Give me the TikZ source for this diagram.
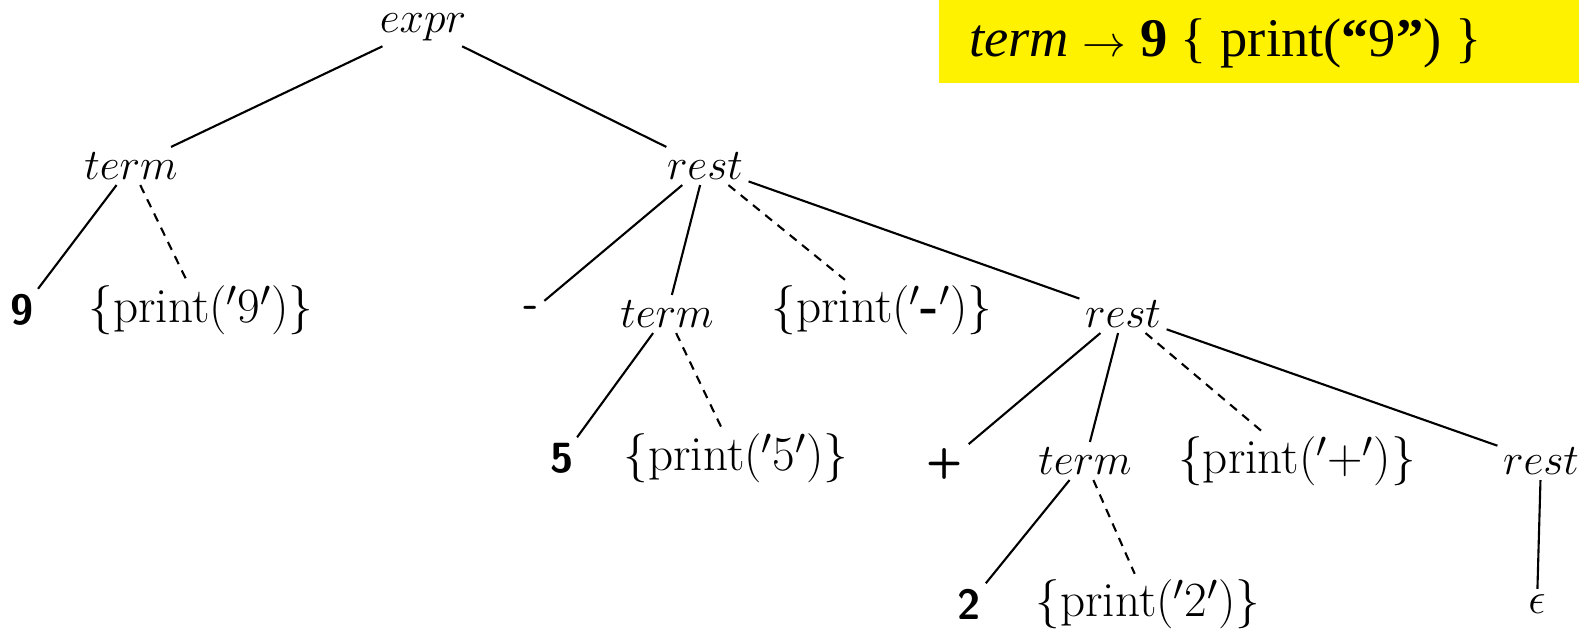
\documentclass[tikz,border=0pt]{standalone}
\usepackage{fontspec}
\newfontfamily\rulefont{Liberation Serif}

\begin{document}
\begin{tikzpicture}[x=0.02cm, y=-0.02cm,
  every node/.style={font=\fontsize{28}{32}\selectfont, inner sep=3pt},
  tok/.style={font=\fontsize{24}{28}\selectfont\sffamily\bfseries},
  edge/.style={line width=1.2pt},
  actedge/.style={edge, dash pattern=on 5pt off 4pt}]
  \useasboundingbox (0,0) rectangle (1579,629);
  % highlighted production
  \fill[yellow] (939,0) rectangle (1579,83);
  \node[anchor=base west, inner sep=0pt, font=\fontsize{31}{36}\selectfont\rulefont] (rule) at (969,56)
    {\textit{term} $\rightarrow$ \textbf{9} \{ print(\textbf{“}9\textbf{”}) \}};
  % tree nodes
  \node (expr) at (423,27) {$expr$};
  \node (termA) at (131,166) {$term$};
  \node (restA) at (705,166) {$rest$};
  \node[tok] (nine) at (22,310) {9};
  \node (actnine) at (201,310) {\{print($'$9$'$)\}};
  \node[tok] (minus) at (531,312) {-};
  \node (termB) at (667,314) {$term$};
  \node (actminus) at (882,310) {\{print($'$\textbf{-}$'$)\}};
  \node (restB) at (1123,314) {$rest$};
  \node[tok] (five) at (562,458) {5};
  \node (actfive) at (736,458) {\{print($'$5$'$)\}};
  \node[tok] (plus) at (945,464) {+};
  \node (termC) at (1085,461) {$term$};
  \node (actplus) at (1297,461) {\{print($'$+$'$)\}};
  \node (restC) at (1541,461) {$rest$};
  \node[tok] (two) at (969,604) {2};
  \node (acttwo) at (1148,604) {\{print($'$2$'$)\}};
  \node (eps) at (1537,604) {$\epsilon$};
  % edges
  \draw[edge] (expr) -- (termA);
  \draw[edge] (expr) -- (restA);
  \draw[edge] (termA) -- (nine);
  \draw[actedge] (termA) -- (actnine);
  \draw[edge] (restA) -- (minus);
  \draw[edge] (restA) -- (termB);
  \draw[actedge] (restA) -- (actminus);
  \draw[edge] (restA) -- (restB);
  \draw[edge] (termB) -- (five);
  \draw[actedge] (termB) -- (actfive);
  \draw[edge] (restB) -- (plus);
  \draw[edge] (restB) -- (termC);
  \draw[actedge] (restB) -- (actplus);
  \draw[edge] (restB) -- (restC);
  \draw[edge] (termC) -- (two);
  \draw[actedge] (termC) -- (acttwo);
  \draw[edge] (restC) -- (eps);
\end{tikzpicture}
\end{document}
